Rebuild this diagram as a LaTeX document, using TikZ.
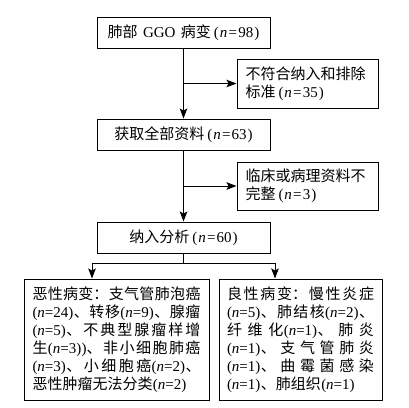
\documentclass[tikz,border=0pt]{standalone}
\usepackage{fontspec}
\setmainfont{Noto Sans CJK SC}
\newfontfamily\lat{Liberation Serif}
\usetikzlibrary{arrows.meta}
\XeTeXlinebreaklocale "zh"
\XeTeXlinebreakskip=0pt plus 10pt
\XeTeXlinebreakpenalty=10000
\tolerance=10000
\hbadness=10000
\hfuzz=5pt
\newcommand\N[1]{{\lat\kern0.4pt(\textit{n}=#1)\kern0.4pt}}
\newcommand\Nw[1]{{\lat\kern3pt(\kern1pt\textit{n}\kern1.2pt=\kern1.2pt#1\kern1pt)}}
\begin{document}
\begin{tikzpicture}[x=1pt,y=-1pt,
  box/.style={draw,line width=1pt,font=\fontsize{15}{18}\selectfont,inner sep=0pt},
  arr/.style={line width=1pt,-{Stealth[length=10pt,width=7.5pt,inset=2pt]}}]
\useasboundingbox[fill=white] (0,0) rectangle (409,407);
\node[box,minimum width=173pt,minimum height=31pt] (b1) at (183.5,32.5) {肺部\kern2pt{} {\lat GGO} \kern2pt病变\Nw{98}};
\node[box,minimum width=141pt,minimum height=49pt,text width=124pt,align=left] (b2) at (307.5,83.5) {不符合纳入和排除\\标准\Nw{35}};
\node[box,minimum width=173pt,minimum height=31pt] (b3) at (183.5,134.5) {获取全部资料\Nw{63}};
\node[box,minimum width=141pt,minimum height=48pt,text width=124pt,align=left] (b4) at (307.5,186) {临床或病理资料不\\完整\Nw{3}};
\node[box,minimum width=173pt,minimum height=31pt] (b5) at (183.5,237.5) {纳入分析\Nw{60}};
\node[box,minimum width=185pt,minimum height=121pt,text width=168pt,align=justify] (b6) at (116.5,339.5) {恶性病变：支气管肺泡癌\linebreak
\N{24}、转移\N{9}、腺瘤\linebreak
\N{5}、不典型腺瘤样增\linebreak
生\N{3}{\lat)}、非小细胞肺癌\linebreak
\N{3}、小细胞癌\N{2}、\linebreak
恶性肿瘤无法分类\N{2}};
\node[box,minimum width=163pt,minimum height=121pt,text width=147pt,align=justify] (b7) at (300.5,339.5) {良性病变：慢性炎症\linebreak
\N{5}、肺结核\N{2}、\linebreak
纤维化\N{1}、肺炎\linebreak
\N{1}、支气管肺炎\linebreak
\N{1}、曲霉菌感染\linebreak
\N{1}、肺组织\N{1}};
\draw[arr] (b1.south) -- (b3.north);
\draw[arr] (b1.south |- b2.west) -- (b2.west);
\draw[arr] (b3.south) -- (b5.north);
\draw[arr] (b3.south |- b4.west) -- (b4.west);
\coordinate (L) at (92,263);
\coordinate (R) at (275,263);
\draw[line width=1pt] (b5.south) -- (b5.south |- L);
\draw[line width=1pt] (L) -- (R);
\draw[arr] (L) -- (L |- b6.north);
\draw[arr] (R) -- (R |- b7.north);
\end{tikzpicture}
\end{document}
